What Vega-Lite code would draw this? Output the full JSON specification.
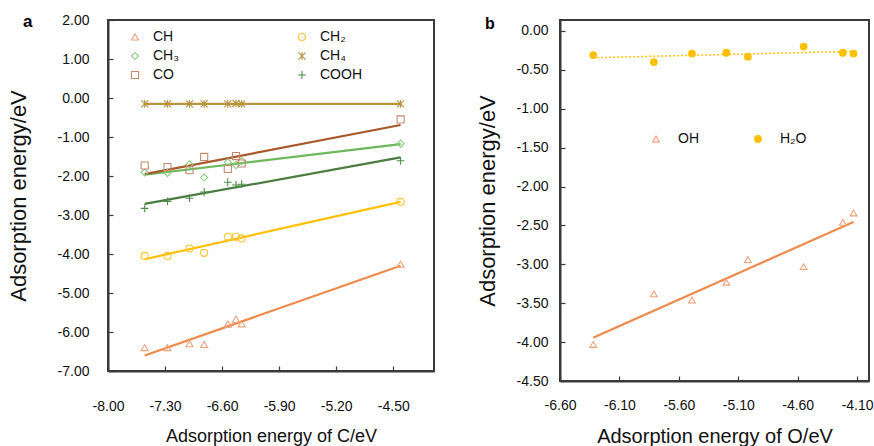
{
  "$schema": "https://vega.github.io/schema/vega-lite/v6.json",
  "background": "white",
  "padding": {"left": 6, "top": 11, "right": 2, "bottom": 2},
  "spacing": 40,
  "config": {
    "font": "Liberation Sans",
    "view": {"stroke": "#3a3a3a", "strokeWidth": 2},
    "axis": {"grid": false, "domain": true, "domainColor": "#3a3a3a", "domainWidth": 2, "zindex": 1, "tickSize": -5, "tickColor": "#3a3a3a", "tickWidth": 1.2, "labelFontSize": 14, "labelColor": "#111111", "titleColor": "#111111", "titleFontWeight": "normal", "labelFont": "Liberation Sans", "titleFont": "Liberation Sans", "labelFlush": false, "labelExpr": "replace(datum.label, '\u2212', '-')"},
    "legend": {"labelFont": "Liberation Sans", "labelFontSize": 14, "labelColor": "#111111", "title": null, "padding": 0},
    "title": {"font": "Liberation Sans", "fontWeight": "bold", "fontSize": 17, "color": "#000000"}
  },
  "resolve": {
    "scale": {"color": "independent", "fill": "independent", "stroke": "independent", "shape": "independent", "strokeDash": "independent", "strokeWidth": "independent"},
    "legend": {"color": "independent", "fill": "independent", "stroke": "independent", "shape": "independent", "strokeDash": "independent", "strokeWidth": "independent"}
  },
  "datasets": {
    "a": [
      {"x": -7.55, "y": -6.40, "series": "CH"}, {"x": -7.27, "y": -6.40, "series": "CH"}, {"x": -7.00, "y": -6.30, "series": "CH"}, {"x": -6.82, "y": -6.32, "series": "CH"}, {"x": -6.53, "y": -5.80, "series": "CH"}, {"x": -6.43, "y": -5.67, "series": "CH"}, {"x": -6.36, "y": -5.79, "series": "CH"}, {"x": -4.41, "y": -4.26, "series": "CH"},
      {"x": -7.55, "y": -4.05, "series": "CH₂"}, {"x": -7.27, "y": -4.05, "series": "CH₂"}, {"x": -7.00, "y": -3.86, "series": "CH₂"}, {"x": -6.82, "y": -3.97, "series": "CH₂"}, {"x": -6.53, "y": -3.56, "series": "CH₂"}, {"x": -6.43, "y": -3.56, "series": "CH₂"}, {"x": -6.36, "y": -3.60, "series": "CH₂"}, {"x": -4.41, "y": -2.66, "series": "CH₂"},
      {"x": -7.55, "y": -1.91, "series": "CH₃"}, {"x": -7.27, "y": -1.92, "series": "CH₃"}, {"x": -7.00, "y": -1.70, "series": "CH₃"}, {"x": -6.82, "y": -2.04, "series": "CH₃"}, {"x": -6.53, "y": -1.65, "series": "CH₃"}, {"x": -6.43, "y": -1.72, "series": "CH₃"}, {"x": -6.36, "y": -1.62, "series": "CH₃"}, {"x": -4.41, "y": -1.17, "series": "CH₃"},
      {"x": -7.55, "y": -0.15, "series": "CH₄"}, {"x": -7.27, "y": -0.15, "series": "CH₄"}, {"x": -7.00, "y": -0.15, "series": "CH₄"}, {"x": -6.82, "y": -0.15, "series": "CH₄"}, {"x": -6.53, "y": -0.15, "series": "CH₄"}, {"x": -6.43, "y": -0.14, "series": "CH₄"}, {"x": -6.36, "y": -0.15, "series": "CH₄"}, {"x": -4.41, "y": -0.15, "series": "CH₄"},
      {"x": -7.55, "y": -1.73, "series": "CO"}, {"x": -7.27, "y": -1.77, "series": "CO"}, {"x": -7.00, "y": -1.85, "series": "CO"}, {"x": -6.82, "y": -1.51, "series": "CO"}, {"x": -6.53, "y": -1.82, "series": "CO"}, {"x": -6.43, "y": -1.49, "series": "CO"}, {"x": -6.36, "y": -1.68, "series": "CO"}, {"x": -4.41, "y": -0.55, "series": "CO"},
      {"x": -7.55, "y": -2.83, "series": "COOH"}, {"x": -7.27, "y": -2.65, "series": "COOH"}, {"x": -7.00, "y": -2.57, "series": "COOH"}, {"x": -6.82, "y": -2.41, "series": "COOH"}, {"x": -6.53, "y": -2.16, "series": "COOH"}, {"x": -6.43, "y": -2.23, "series": "COOH"}, {"x": -6.36, "y": -2.21, "series": "COOH"}, {"x": -4.41, "y": -1.61, "series": "COOH"}
    ],
    "b": [
      {"x": -6.32, "y": -4.03, "series": "OH"}, {"x": -5.81, "y": -3.38, "series": "OH"}, {"x": -5.49, "y": -3.46, "series": "OH"}, {"x": -5.20, "y": -3.23, "series": "OH"}, {"x": -5.02, "y": -2.94, "series": "OH"}, {"x": -4.55, "y": -3.03, "series": "OH"}, {"x": -4.22, "y": -2.46, "series": "OH"}, {"x": -4.13, "y": -2.34, "series": "OH"},
      {"x": -6.32, "y": -0.31, "series": "H₂O"}, {"x": -5.81, "y": -0.40, "series": "H₂O"}, {"x": -5.49, "y": -0.29, "series": "H₂O"}, {"x": -5.20, "y": -0.28, "series": "H₂O"}, {"x": -5.02, "y": -0.33, "series": "H₂O"}, {"x": -4.55, "y": -0.20, "series": "H₂O"}, {"x": -4.22, "y": -0.28, "series": "H₂O"}, {"x": -4.13, "y": -0.29, "series": "H₂O"}
    ]
  },
  "hconcat": [
    {
      "width": 326,
      "height": 351,
      "title": {"text": "a", "anchor": "start", "frame": "bounds", "offset": -17.5, "dx": 16},
      "data": {"name": "a"},
      "encoding": {
        "x": {"field": "x", "type": "quantitative", "scale": {"domain": [-8, -4], "nice": false, "zero": false},
              "axis": {"values": [-8, -7.3, -6.6, -5.9, -5.2, -4.5], "format": ".2f", "labelPadding": 33, "title": "Adsorption energy of C/eV", "titleFontSize": 18, "titlePadding": 14}},
        "y": {"field": "y", "type": "quantitative", "scale": {"domain": [-7, 2], "nice": false, "zero": false},
              "axis": {"values": [-7, -6, -5, -4, -3, -2, -1, 0, 1, 2], "format": ".2f", "labelPadding": 24, "title": "Adsorption energy/eV", "titleFontSize": 22, "titlePadding": 27}}
      },
      "layer": [
        {
          "transform": [{"regression": "y", "on": "x", "groupby": ["series"]}],
          "mark": {"type": "line", "strokeWidth": 2.2},
          "encoding": {
            "stroke": {"field": "series", "type": "nominal", "legend": null,
                       "scale": {"domain": ["COOH", "CO", "CH₄", "CH₃", "CH₂", "CH"], "range": ["#4C7D40", "#A8582B", "#B9963E", "#6DB85C", "#FFC000", "#EE8B4C"]}},
            "detail": {"field": "series"}
          }
        },
        {
          "mark": {"type": "point", "filled": false, "size": 50, "strokeWidth": 1.1, "opacity": 1},
          "encoding": {
            "color": {"field": "series", "type": "nominal",
                      "scale": {"domain": ["CH", "CH₂", "CH₃", "CH₄", "CO", "COOH"], "range": ["#F0A27A", "#FFC42E", "#8CCB80", "#B5923E", "#C58A6E", "#4F8E4A"]},
                      "legend": {"orient": "none", "direction": "horizontal", "legendX": 20, "legendY": 10, "columns": 2, "columnPadding": 116, "rowPadding": 5, "labelOffset": 11, "symbolSize": 50, "symbolStrokeWidth": 1.1}},
            "shape": {"field": "series", "type": "nominal",
                      "scale": {"domain": ["CH", "CH₂", "CH₃", "CH₄", "CO", "COOH"], "range": ["triangle-up", "circle", "diamond", "M-1,-1L1,1M-1,1L1,-1M0,-1.1L0,1.1", "square", "M-1.1,0L1.1,0M0,-1.1L0,1.1"]},
                      "legend": {"orient": "none", "direction": "horizontal", "legendX": 20, "legendY": 10, "columns": 2, "columnPadding": 116, "rowPadding": 5, "labelOffset": 11, "symbolSize": 50, "symbolStrokeWidth": 1.1}}
          }
        }
      ]
    },
    {
      "width": 309,
      "height": 361,
      "title": {"text": "b", "anchor": "start", "frame": "bounds", "offset": -12, "fontSize": 16, "dx": 9},
      "data": {"name": "b"},
      "encoding": {
        "x": {"field": "x", "type": "quantitative", "scale": {"domain": [-6.6, -4.0], "nice": false, "zero": false},
              "axis": {"values": [-6.6, -6.1, -5.6, -5.1, -4.6, -4.1], "format": ".2f", "labelPadding": 22, "title": "Adsorption energy of O/eV", "titleFontSize": 20, "titlePadding": 14}},
        "y": {"field": "y", "type": "quantitative", "scale": {"domain": [-4.5, 0.1414], "nice": false, "zero": false},
              "axis": {"values": [-4.5, -4, -3.5, -3, -2.5, -2, -1.5, -1, -0.5, 0], "format": ".2f", "labelPadding": 17, "title": "Adsorption energy/eV", "titleFontSize": 22, "titlePadding": 17}}
      },
      "layer": [
        {
          "transform": [{"regression": "y", "on": "x", "groupby": ["series"]}],
          "mark": {"type": "line"},
          "encoding": {
            "color": {"field": "series", "type": "nominal", "legend": null,
                      "scale": {"domain": ["H₂O", "OH"], "range": ["#FFC000", "#EE8B4C"]}},
            "strokeDash": {"field": "series", "type": "nominal", "legend": null,
                           "scale": {"domain": ["H₂O", "OH"], "range": [[2, 2], [1, 0]]}},
            "strokeWidth": {"field": "series", "type": "nominal", "legend": null,
                            "scale": {"domain": ["H₂O", "OH"], "range": [1.5, 2.2]}},
            "detail": {"field": "series"}
          }
        },
        {
          "mark": {"type": "point", "filled": true, "size": 45, "strokeWidth": 1.1, "opacity": 1},
          "encoding": {
            "fill": {"field": "series", "type": "nominal",
                     "scale": {"domain": ["OH", "H₂O"], "range": ["transparent", "#FFC000"]},
                     "legend": {"orient": "none", "direction": "horizontal", "legendX": 89, "legendY": 112, "columns": 2, "columnPadding": 52, "labelOffset": 15, "symbolSize": 45, "symbolStrokeWidth": 1.1}},
            "stroke": {"field": "series", "type": "nominal",
                       "scale": {"domain": ["OH", "H₂O"], "range": ["#F0A27A", "#FFC000"]},
                       "legend": {"orient": "none", "direction": "horizontal", "legendX": 89, "legendY": 112, "columns": 2, "columnPadding": 52, "labelOffset": 15, "symbolSize": 45, "symbolStrokeWidth": 1.1}},
            "shape": {"field": "series", "type": "nominal",
                      "scale": {"domain": ["OH", "H₂O"], "range": ["triangle-up", "circle"]},
                      "legend": {"orient": "none", "direction": "horizontal", "legendX": 89, "legendY": 112, "columns": 2, "columnPadding": 52, "labelOffset": 15, "symbolSize": 45, "symbolStrokeWidth": 1.1}}
          }
        }
      ]
    }
  ]
}
